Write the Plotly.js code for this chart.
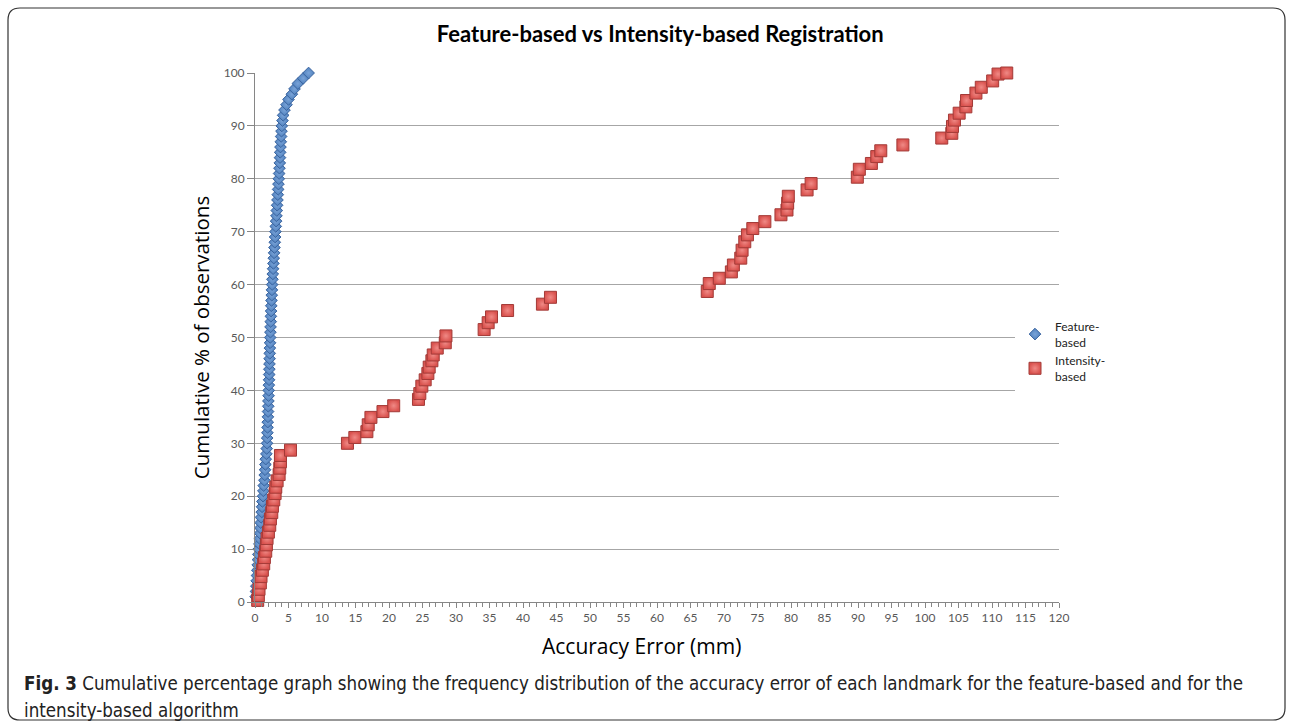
<!DOCTYPE html>
<html>
<head>
<meta charset="utf-8">
<script src="https://cdn.plot.ly/plotly-3.0.1.min.js"></script>
<style>
html,body{margin:0;padding:0;background:#fff;}
#chart{width:1292px;height:728px;}
</style>
</head>
<body>
<div id="chart"></div>
<script>
// ---- Data ----
var featureErr = [0.1,0.15,0.2,0.25,0.3,0.35,0.4,0.45,0.5,0.55,
  0.65,0.7,0.75,0.8,0.85,0.9,1.0,1.05,1.1,1.2,
  1.25,1.3,1.4,1.45,1.5,1.55,1.6,1.7,1.75,1.8,
  1.82,1.85,1.87,1.9,1.93,1.95,1.98,2.0,2.03,2.05,
  2.07,2.1,2.12,2.14,2.16,2.18,2.2,2.22,2.25,2.27,
  2.3,2.32,2.35,2.37,2.4,2.43,2.46,2.5,2.53,2.56,
  2.6,2.65,2.7,2.75,2.8,2.85,2.9,2.95,3.0,3.05,
  3.1,3.15,3.2,3.25,3.3,3.35,3.4,3.45,3.5,3.55,
  3.6,3.65,3.7,3.73,3.76,3.8,3.85,3.9,3.95,4.0,
  4.1,4.2,4.4,4.7,5.0,5.5,5.9,6.4,7.2,8.0];
var featureCum = [1,2,3,4,5,6,7,8,9,10,
  11,12,13,14,15,16,17,18,19,20,
  21,22,23,24,25,26,27,28,29,30,
  31,32,33,34,35,36,37,38,39,40,
  41,42,43,44,45,46,47,48,49,50,
  51,52,53,54,55,56,57,58,59,60,
  61,62,63,64,65,66,67,68,69,70,
  71,72,73,74,75,76,77,78,79,80,
  81,82,83,84,85,86,87,88,89,90,
  91,92,93,94,95,96,97,98,99,100];

var intensityErr = [0.4,0.5,0.6,0.8,0.9,1.1,1.3,1.4,1.6,1.7,
  1.8,2.0,2.2,2.3,2.5,2.6,2.8,3.0,3.1,3.3,
  3.6,3.7,3.8,3.8,5.3,
  13.8,14.9,16.7,16.9,17.3,19.1,20.7,24.4,24.6,24.9,
  25.4,25.8,26.0,26.4,26.6,27.2,28.4,28.5,
  34.2,34.8,35.3,37.7,42.9,44.1,
  67.5,67.8,69.3,71.1,71.4,72.5,72.7,73.1,73.5,74.3,
  76.1,78.5,79.4,79.5,79.6,82.4,83.0,
  89.9,90.2,92.0,92.8,93.4,96.7,
  102.5,104.0,104.1,104.4,105.1,106.1,106.2,107.6,108.4,110.1,110.9,112.2];
var intensityCum = [0.3,1.2,2.4,3.6,4.8,6.0,7.2,8.4,9.6,10.8,
  12.0,13.2,14.5,15.7,16.9,18.1,19.3,20.5,21.7,22.9,
  24.1,25.3,26.5,27.7,28.7,
  30.0,31.1,32.2,33.5,34.9,36.0,37.1,38.3,39.4,40.8,
  42.0,43.2,44.4,45.6,46.7,48.0,49.0,50.3,
  51.5,52.8,53.9,55.1,56.3,57.6,
  58.7,60.2,61.2,62.4,63.7,65.0,66.5,68.1,69.4,70.6,
  71.9,73.2,74.1,75.4,76.7,77.9,79.1,
  80.3,81.8,82.9,84.2,85.3,86.4,
  87.7,88.6,89.9,91.1,92.4,93.6,94.8,96.2,97.3,98.5,99.8,100.0];

var seriesNames = ['Feature-<br>based', 'Intensity-<br>based'];
var xTickVals = [0,5,10,15,20,25,30,35,40,45,50,55,60,65,70,75,80,85,90,95,100,105,110,115,120];
var yTickVals = [0,10,20,30,40,50,60,70,80,90,100];

// ---- Layout helpers (pixel -> paper) ----
var L = 255, R = 1059, T = 73, B = 602;
function px(x){ return (x - L) / (R - L); }
function py(y){ return (B - y) / (B - T); }
function framePath(x0, y0, x1, y1, r){
  var p = [];
  p.push('M ' + px(x0 + r) + ' ' + py(y0));
  p.push('L ' + px(x1 - r) + ' ' + py(y0));
  p.push('Q ' + px(x1) + ' ' + py(y0) + ' ' + px(x1) + ' ' + py(y0 + r));
  p.push('L ' + px(x1) + ' ' + py(y1 - r));
  p.push('Q ' + px(x1) + ' ' + py(y1) + ' ' + px(x1 - r) + ' ' + py(y1));
  p.push('L ' + px(x0 + r) + ' ' + py(y1));
  p.push('Q ' + px(x0) + ' ' + py(y1) + ' ' + px(x0) + ' ' + py(y1 - r));
  p.push('L ' + px(x0) + ' ' + py(y0 + r));
  p.push('Q ' + px(x0) + ' ' + py(y0) + ' ' + px(x0 + r) + ' ' + py(y0));
  p.push('Z');
  return p.join(' ');
}

var traces = [
  {
    x: featureErr, y: featureCum, name: seriesNames[0],
    type: 'scatter', mode: 'markers',
    marker: {symbol: 'diamond', size: 9, color: '#4f81bd',
      line: {color: '#3a64a0', width: 1},
      gradient: {type: 'radial', color: '#7aa3d8'}},
    cliponaxis: false
  },
  {
    x: intensityErr, y: intensityCum, name: seriesNames[1],
    type: 'scatter', mode: 'markers',
    marker: {symbol: 'square', size: 12, color: '#d9524e',
      line: {color: '#a33a37', width: 1},
      gradient: {type: 'radial', color: '#f08a86'}},
    cliponaxis: false
  }
];

var tickFont = {family: 'Lato, "Open Sans", sans-serif', size: 12, color: '#595959'};

var layout = {
  width: 1292, height: 728,
  paper_bgcolor: '#ffffff', plot_bgcolor: '#ffffff',
  margin: {l: L, r: 1292 - R, t: T, b: 728 - B, pad: 0},
  title: {
    text: '<b>Feature-based vs Intensity-based Registration</b>',
    font: {family: 'Lato, "Open Sans", sans-serif', size: 22, color: '#000000'},
    x: 0.511, xanchor: 'center', y: 1 - 34/728, yanchor: 'middle'
  },
  xaxis: {
    range: [0, 120], tickvals: xTickVals, ticktext: xTickVals.map(String),
    showgrid: false, zeroline: false,
    showline: true, linecolor: '#868686', linewidth: 1,
    ticks: 'outside', ticklen: 5, tickcolor: '#868686', tickwidth: 1,
    minor: {dtick: 1, ticks: 'outside', ticklen: 4, tickcolor: '#868686', showgrid: false},
    tickfont: tickFont
  },
  yaxis: {
    range: [0, 100], tickvals: yTickVals, ticktext: yTickVals.map(String),
    showgrid: true, gridcolor: '#a6a6a6', gridwidth: 1,
    zeroline: false,
    showline: true, linecolor: '#868686', linewidth: 1,
    ticks: 'outside', ticklen: 7, tickcolor: '#868686',
    tickfont: tickFont,
    title: {text: 'Cumulative % of observations', standoff: 8,
      font: {family: '"Open Sans", sans-serif', size: 20.5, color: '#000000'}}
  },
  showlegend: true,
  legend: {
    x: px(1015), xanchor: 'left', y: py(312), yanchor: 'top',
    bgcolor: '#ffffff', borderwidth: 0,
    font: {family: 'Lato, "Open Sans", sans-serif', size: 12, color: '#222222'},
    itemwidth: 30, tracegroupgap: 2
  },
  shapes: [
    {type: 'path', xref: 'paper', yref: 'paper',
     path: framePath(8, 8, 1285, 720, 12),
     line: {color: '#333333', width: 1.2}, fillcolor: 'rgba(0,0,0,0)', layer: 'below'}
  ],
  annotations: [
    {xref: 'paper', yref: 'paper', x: px(641), y: py(646), xanchor: 'center', yanchor: 'middle',
     showarrow: false, text: 'Accuracy Error (mm)',
     font: {family: '"Open Sans", sans-serif', size: 21, color: '#000000'}},
    {xref: 'paper', yref: 'paper', x: px(22), y: py(683), xanchor: 'left', yanchor: 'middle',
     showarrow: false, align: 'left',
     text: '<b>Fig. 3</b> Cumulative percentage graph showing the frequency distribution of the accuracy error of each landmark for the feature-based and for the',
     font: {family: '"Liberation Sans Narrow", "DejaVu Sans Condensed", sans-serif', size: 18.6, color: '#222222'}},
    {xref: 'paper', yref: 'paper', x: px(22), y: py(710), xanchor: 'left', yanchor: 'middle',
     showarrow: false, align: 'left',
     text: 'intensity-based algorithm',
     font: {family: '"Liberation Sans Narrow", "DejaVu Sans Condensed", sans-serif', size: 18.6, color: '#222222'}}
  ]
};

Plotly.newPlot('chart', traces, layout, {displayModeBar: false, staticPlot: true});
</script>
</body>
</html>
